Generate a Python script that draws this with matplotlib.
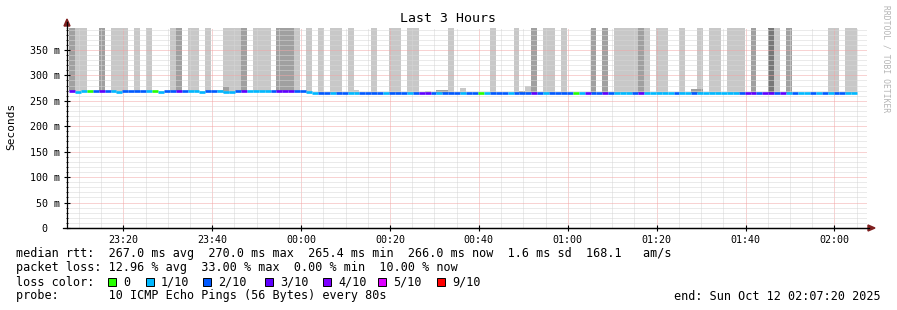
import numpy as np
import matplotlib
matplotlib.use("Agg")
from matplotlib import pyplot as plt
from matplotlib.patches import Rectangle, Polygon
from matplotlib.lines import Line2D

# ---- values ----
first_step = "23:07:48"   # start of first 80s step
step_seconds = 80
axis_start = "23:07:20"
axis_end = "02:07:20"

# smoke shade per step: 0 none, 1 light, 2 medium, 3 dark (smoke runs off the top)
smoke = [2, 1, 1, 0, 0, 2, 0, 1, 1, 1, 0, 1, 0, 1, 0, 0, 0, 1, 2, 0,
         1, 1, 0, 1, 0, 0, 1, 1, 1, 2, 0, 1, 1, 1, 0, 2, 2, 2, 1, 0,
         1, 0, 1, 0, 1, 1, 0, 1, 0, 0, 0, 1, 0, 0, 1, 1, 0, 1, 1, 0,
         0, 0, 0, 0, 1, 0, 0, 0, 0, 0, 0, 1, 0, 0, 0, 1, 0, 0, 2, 0,
         1, 1, 0, 1, 0, 0, 0, 0, 2, 0, 2, 0, 1, 1, 1, 1, 2, 1, 0, 1,
         1, 0, 0, 1, 0, 0, 1, 0, 1, 1, 0, 1, 1, 1, 0, 2, 0, 0, 3, 1,
         0, 2, 0, 0, 0, 0, 0, 0, 1, 1, 0, 1, 1]

# lost pings out of 10 per step
loss = [3, 1, 1, 0, 2, 3, 2, 1, 1, 2, 2, 2, 2, 1, 0, 1, 2, 2, 3, 2,
        1, 1, 1, 2, 2, 1, 1, 1, 2, 3, 1, 1, 1, 1, 2, 3, 3, 3, 2, 2,
        1, 1, 2, 2, 1, 2, 2, 1, 1, 2, 2, 2, 2, 1, 2, 2, 2, 1, 2, 3,
        3, 2, 1, 2, 2, 2, 1, 2, 2, 0, 1, 2, 2, 2, 1, 2, 2, 2, 3, 2,
        1, 2, 2, 2, 2, 0, 1, 3, 2, 2, 3, 2, 1, 1, 1, 2, 3, 1, 1, 1,
        1, 1, 2, 1, 1, 2, 1, 1, 1, 1, 1, 1, 1, 2, 3, 3, 2, 3, 3, 2,
        3, 1, 2, 1, 1, 2, 1, 2, 1, 2, 2, 1, 1]

# median rtt per step (ms)
median = [270, 267, 270, 270, 270, 270, 270, 270, 267, 270, 270, 270, 270, 270, 270, 267, 270, 270, 270, 270,
          270, 270, 267, 270, 270, 270, 267, 267, 270, 270, 270, 270, 270, 270, 270, 270, 270, 270, 270, 269,
          267, 266, 266, 266, 266, 266, 265.5, 266, 266, 266, 266, 266, 266, 266, 266, 265.5, 266, 266, 266, 266,
          266, 266, 266, 266, 266, 266, 266, 266, 265.5, 266, 266, 266, 266, 266, 266, 266, 266, 266, 266, 266,
          266, 266, 266, 266, 265.5, 266, 266, 266, 266, 266, 266, 266, 266, 266, 266, 266, 266, 266, 266, 266,
          266, 266, 266, 266, 266, 266, 266, 266, 266, 265.5, 266, 266, 266, 266, 266, 266, 266, 266, 266, 266,
          266, 266, 266, 266, 266, 266, 266, 266, 266, 266, 266, 266, 266]

# small smoke just above the median
bump_steps = [25, 26, 27, 48, 60, 62, 63, 66, 76, 77, 105, 106]
bump_tops = [272, 277, 272, 271, 269, 271, 271, 275, 269, 279, 273, 273]
bump_shades = [1, 2, 1, 1, 1, 2, 2, 1, 2, 1, 2, 2]

x_labels = ["23:20", "23:40", "00:00", "00:20", "00:40", "01:00", "01:20", "01:40", "02:00"]
y_values = [0, 50, 100, 150, 200, 250, 300, 350]

loss_labels = ["0", "1/10", "2/10", "3/10", "4/10", "5/10", "9/10"]
loss_colors = ["#26ff00", "#00b8ff", "#0059ff", "#5e00ff", "#7e00ff", "#dd00ff", "#ff0000"]
shade_colors = {1: "#c8c8c8", 2: "#a0a0a0", 3: "#787878"}

rtt_line = "median rtt:  267.0 ms avg  270.0 ms max  265.4 ms min  266.0 ms now  1.6 ms sd  168.1   am/s"
loss_line = "packet loss: 12.96 % avg  33.00 % max  0.00 % min  10.00 % now"
probe_line = "probe:       10 ICMP Echo Pings (56 Bytes) every 80s"
end_line = "end: Sun Oct 12 02:07:20 2025"


def to_min(s):
    # minutes after 23:00
    h, m, sec = [int(v) for v in s.split(":")]
    if h < 12:
        h += 24
    return (h - 23) * 60 + m + sec / 60.0


W, H = 897, 310
MONO = "DejaVu Sans Mono"


def px(x, y):
    return (x / W, 1 - y / H)


fig = plt.figure(figsize=(W / 100, H / 100), dpi=100)
ax = fig.add_axes([67 / W, (H - 228) / H, 800 / W, 200 / H])

step = step_seconds / 60.0
t0 = to_min(first_step)
starts = t0 + np.arange(len(median)) * step
med = np.array(median, dtype=float)

# smoke bars
for i, lvl in enumerate(smoke):
    if lvl:
        ax.bar(starts[i], 500, width=step, bottom=med[i] - 1, align="edge",
               color=shade_colors[lvl], linewidth=0, zorder=1)
for s, top, lvl in zip(bump_steps, bump_tops, bump_shades):
    ax.bar(starts[s], top - med[s] + 1, width=step, bottom=med[s] - 1, align="edge",
           color=shade_colors[lvl], linewidth=0, zorder=1)

# median line coloured by loss
cols = [loss_colors[l] if l <= 5 else loss_colors[-1] for l in loss]
ax.hlines(med, starts, starts + step, colors=cols, linewidth=1.9, zorder=5)

ax.set_xlim(to_min(axis_start), to_min(axis_end))
ax.set_ylim(0, 393)

xt = [to_min(l + ":00") for l in x_labels]
ax.set_xticks(xt)
ax.set_xticklabels(x_labels)
ax.set_xticks(np.arange(10, 187, 5), minor=True)
ax.set_yticks(y_values)
ax.set_yticklabels(["0  "] + ["%d m" % v for v in y_values[1:]])
ax.set_yticks(np.arange(10, 393, 10), minor=True)

ax.grid(which="minor", color="#d6d6d6", linestyle=(0, (1, 1)), linewidth=0.72, zorder=3)
ax.grid(which="major", color="#f2a6a6", linestyle=(0, (1, 1)), linewidth=0.72, zorder=3)
ax.set_axisbelow(False)

for sp in ["top", "right"]:
    ax.spines[sp].set_visible(False)
for sp in ["left", "bottom"]:
    ax.spines[sp].set_linewidth(0.9)
    ax.spines[sp].set_color("#000000")
    ax.spines[sp].set_zorder(6)

ax.tick_params(which="major", direction="inout", length=4, width=0.8, color="#000000",
               labelsize=7.2, pad=3)
ax.tick_params(axis="y", which="minor", direction="inout", length=2, width=0.6, color="#000000")
ax.tick_params(axis="x", which="minor", length=0)
for lab in ax.get_xticklabels() + ax.get_yticklabels():
    lab.set_fontfamily(MONO)

# axis extensions and arrows
fig.add_artist(Line2D([px(67, 28)[0], px(67, 22)[0]], [px(67, 28)[1], px(67, 22)[1]],
                      color="#000000", linewidth=0.9, transform=fig.transFigure))
fig.add_artist(Line2D([px(63, 228)[0], px(869, 228)[0]], [px(63, 228)[1], px(869, 228)[1]],
                      color="#000000", linewidth=0.9, transform=fig.transFigure))
fig.add_artist(Polygon([px(64, 26), px(70, 26), px(67, 19)], closed=True,
                       color="#7f1f1f", transform=fig.transFigure))
fig.add_artist(Polygon([px(868, 225), px(868, 231), px(875, 228)], closed=True,
                       color="#7f1f1f", transform=fig.transFigure))

# titles and labels
fig.text(*px(448, 19), "Last 3 Hours", ha="center", va="center", fontsize=9.5, family=MONO)
fig.text(*px(11, 126), "Seconds", ha="center", va="center", rotation=90, fontsize=8, family=MONO)
fig.text(*px(886, 59), "RRDTOOL / TOBI OETIKER", ha="center", va="center", rotation=270,
         fontsize=5.8, family=MONO, color="#b4b4b4")

# legend
fs = 8.5
fig.text(*px(16, 254), rtt_line, ha="left", va="center", fontsize=fs, family=MONO)
fig.text(*px(16, 268), loss_line, ha="left", va="center", fontsize=fs, family=MONO)
fig.text(*px(16, 282), "loss color:", ha="left", va="center", fontsize=fs, family=MONO)
fig.text(*px(16, 296), probe_line, ha="left", va="center", fontsize=fs, family=MONO)
fig.text(*px(881, 296), end_line, ha="right", va="center", fontsize=fs, family=MONO)

box_x = [108, 146, 203, 265, 323, 378, 437]
for bx, lab, col in zip(box_x, loss_labels, loss_colors):
    x0, y0 = px(bx, 286)
    fig.add_artist(Rectangle((x0, y0), 8 / W, 8 / H, facecolor=col, edgecolor="#000000",
                             linewidth=0.7, transform=fig.transFigure))
    fig.text(*px(bx + 15, 282), lab, ha="left", va="center", fontsize=fs, family=MONO)

fig.savefig("out.png", dpi=100)
